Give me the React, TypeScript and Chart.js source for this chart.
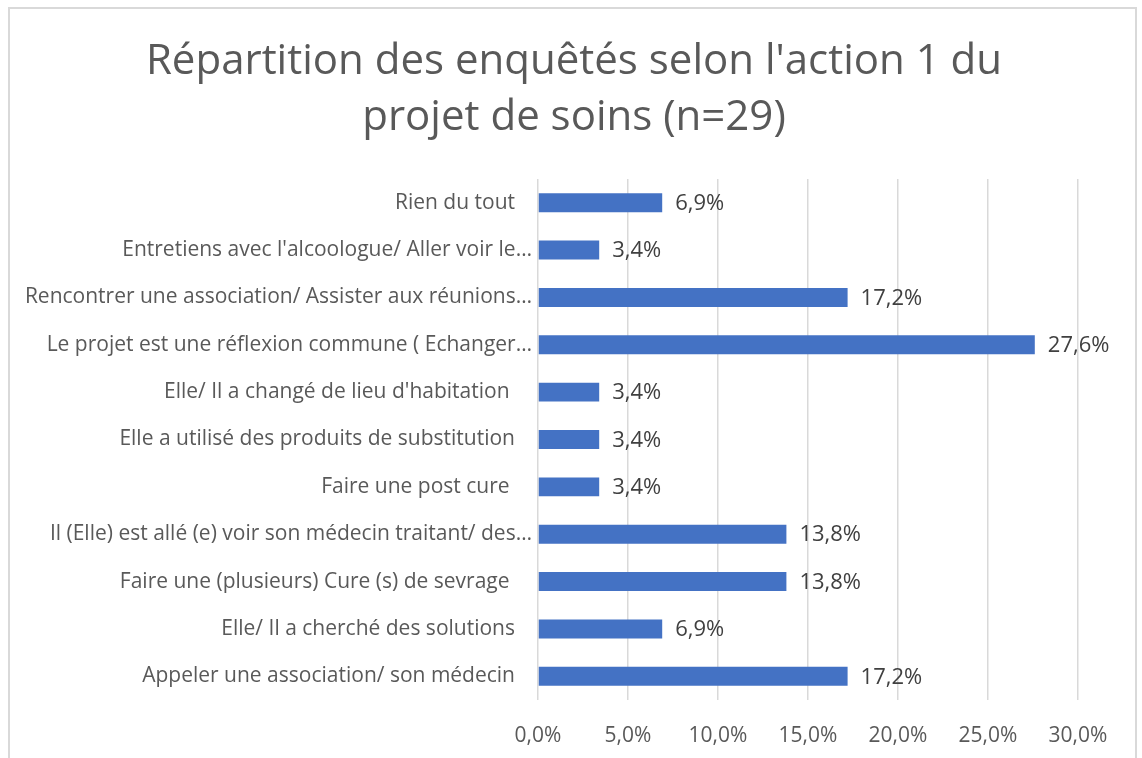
import React, { useEffect, useRef } from "react";
import { Chart, registerables } from "chart.js";

Chart.register(...registerables);

const titleLines = ["Répartition des enquêtés selon l'action 1 du", "projet de soins (n=29)"];

const categories = [
  "Rien du tout",
  "Entretiens avec l'alcoologue/ Aller voir le…",
  "Rencontrer une association/ Assister aux réunions…",
  "Le projet est une réflexion commune ( Echanger…",
  "Elle/ Il a changé de lieu d'habitation ",
  "Elle a utilisé des produits de substitution",
  "Faire une post cure ",
  "Il (Elle) est allé (e) voir son médecin traitant/ des…",
  "Faire une (plusieurs) Cure (s) de sevrage ",
  "Elle/ Il a cherché des solutions",
  "Appeler une association/ son médecin",
];

const values = [6.9, 3.4, 17.2, 27.6, 3.4, 3.4, 3.4, 13.8, 13.8, 6.9, 17.2];

const xMin = 0;
const xMax = 30;
const xStep = 5;

const FONT = "'Open Sans', Lato, sans-serif";

const fmt = (v: number) => v.toFixed(1).replace(".", ",") + "%";

const dataLabelPlugin = {
  id: "dataLabels",
  afterDatasetsDraw(chart: any) {
    const ctx = chart.ctx;
    const meta = chart.getDatasetMeta(0);
    ctx.save();
    ctx.font = `22px ${FONT}`;
    ctx.fillStyle = "#404040";
    ctx.textAlign = "left";
    ctx.textBaseline = "middle";
    meta.data.forEach((bar: any, i: number) => {
      ctx.fillText(fmt(values[i]), bar.x + 13, bar.y + 1);
    });
    ctx.restore();
  },
};

// Category labels: Excel right-aligns full labels a bit further from the axis
// than the truncated ("…") ones.
const categoryLabelPlugin = {
  id: "categoryLabels",
  afterDraw(chart: any) {
    const ctx = chart.ctx;
    const yScale = chart.scales.y;
    const left = chart.chartArea.left;
    ctx.save();
    ctx.font = `21px ${FONT}`;
    ctx.fillStyle = "#595959";
    ctx.textAlign = "right";
    ctx.textBaseline = "middle";
    categories.forEach((label, i) => {
      const y = yScale.getPixelForValue(i);
      const x = label.endsWith("…") ? left - 6 : left - 23;
      ctx.fillText(label, x, y);
    });
    ctx.restore();
  },
};

const titlePlugin = {
  id: "customTitle",
  afterDraw(chart: any) {
    const ctx = chart.ctx;
    ctx.save();
    ctx.font = `42px ${FONT}`;
    ctx.fillStyle = "#595959";
    ctx.textAlign = "center";
    ctx.textBaseline = "middle";
    titleLines.forEach((line, i) => {
      ctx.fillText(line, 574, 62 + i * 56);
    });
    ctx.restore();
  },
};

export default function App() {
  const ref = useRef<HTMLCanvasElement | null>(null);

  useEffect(() => {
    if (!ref.current) return;
    const chart = new Chart(ref.current, {
      type: "bar",
      data: {
        labels: categories,
        datasets: [
          {
            data: values,
            backgroundColor: "#4472C4",
            borderWidth: 0,
            categoryPercentage: 1,
            barPercentage: 0.4,
          },
        ],
      },
      options: {
        indexAxis: "y",
        animation: false,
        responsive: false,
        devicePixelRatio: 1,
        layout: { padding: { left: 0, right: 64, top: 179, bottom: 0 } },
        plugins: {
          legend: { display: false },
          tooltip: { enabled: false },
          title: { display: false },
        },
        scales: {
          x: {
            min: xMin,
            max: xMax,
            border: { display: false },
            grid: { color: "#d9d9d9", lineWidth: 1.5, drawTicks: false },
            ticks: {
              stepSize: xStep,
              color: "#595959",
              padding: 23,
              font: { family: FONT, size: 21 },
              callback: (v: any) => fmt(Number(v)),
            },
            afterFit: (scale: any) => {
              scale.height = 58;
            },
          },
          y: {
            border: { display: false },
            grid: { display: false },
            ticks: { display: false },
            afterFit: (scale: any) => {
              scale.width = 538;
            },
          },
        },
      },
      plugins: [dataLabelPlugin, categoryLabelPlugin, titlePlugin],
    });
    return () => chart.destroy();
  }, []);

  return (
    <div
      style={{
        position: "fixed",
        left: 0,
        top: 0,
        width: 1142,
        height: 758,
        overflow: "hidden",
        background: "#fff",
      }}
    >
      <canvas ref={ref} width={1142} height={758} style={{ position: "absolute", left: 0, top: 0 }} />
      <div
        style={{
          position: "absolute",
          left: 8,
          top: 7,
          width: 1129,
          height: 800,
          border: "2px solid #d9d9d9",
          boxSizing: "border-box",
          pointerEvents: "none",
        }}
      />
    </div>
  );
}
